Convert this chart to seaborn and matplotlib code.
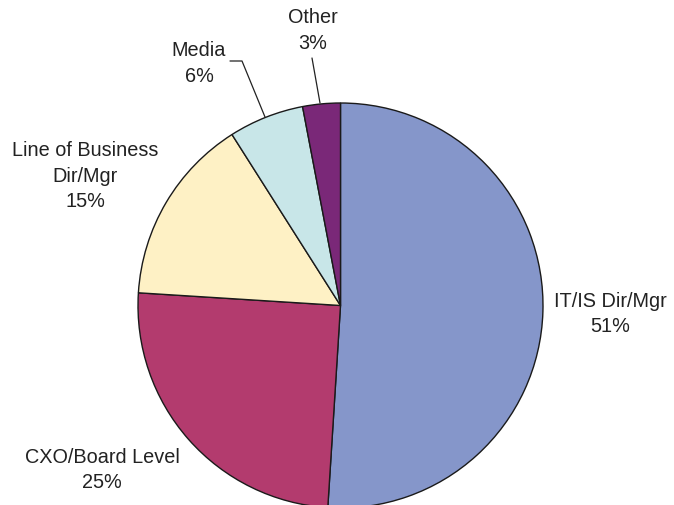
import matplotlib
matplotlib.use("Agg")
import matplotlib.pyplot as plt
import seaborn as sns

categories = ["IT/IS Dir/Mgr", "CXO/Board Level", "Line of Business\nDir/Mgr", "Media", "Other"]
shares = [51, 25, 15, 6, 3]
slice_colors = ["#8596CA", "#B33B6E", "#FEF1C5", "#C8E6E8", "#7A2878"]

sns.set_theme(style="white")
plt.rcParams['font.family'] = ['Liberation Sans', 'DejaVu Sans']

W, H = 674, 506
fig = plt.figure(figsize=(W / 100, H / 100), dpi=100)
ax = fig.add_axes([0, 0, 1, 1])

cx, cy, r = 340.5, 306.5, 202.5
wedges, _ = ax.pie(shares, colors=slice_colors, startangle=-90, counterclock=True,
                   center=(cx, cy), radius=r, frame=True,
                   wedgeprops=dict(edgecolor="#1a1a1a", linewidth=1.0))
ax.set_xlim(0, W)
ax.set_ylim(H, 0)
ax.set_aspect('equal')
ax.axis('off')

# label positions (pixel coords: center x, first-line baseline)
label_pos = [(610, 307), (102, 463), (85, 156), (199, 56), (313, 23)]
for name, val, (lx, ly) in zip(categories, shares, label_pos):
    lines = name.split("\n") + [f"{val}%"]
    for i, line in enumerate(lines):
        ax.text(lx, ly + i * 25.5, line, ha='center', va='baseline',
                fontsize=14.3, color="#222222")

# leader lines
ax.plot([230, 242, 265], [62, 62, 118], color="#222222", lw=0.9)
ax.plot([312, 320], [59, 104], color="#222222", lw=0.9)

fig.savefig("out.png", dpi=100)
